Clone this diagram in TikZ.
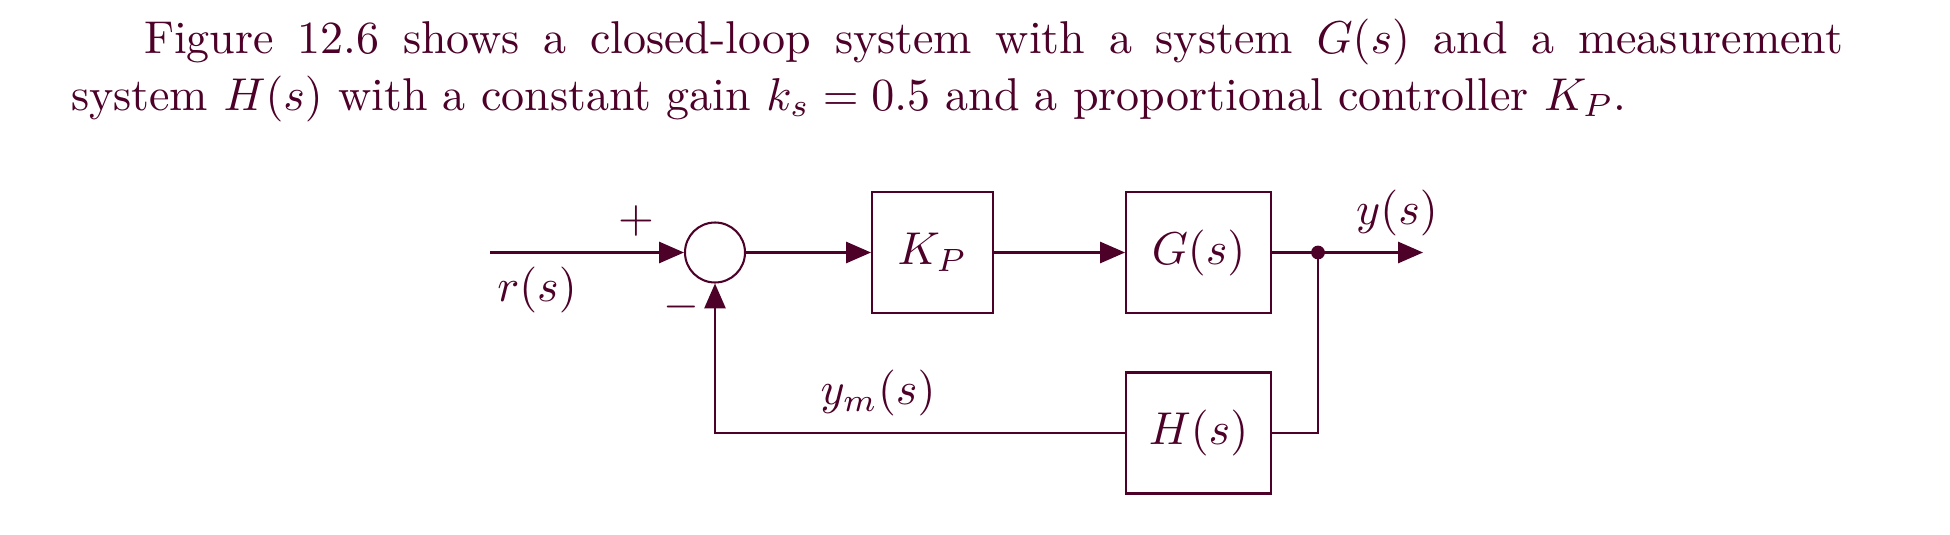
\documentclass[tikz,border=0pt]{standalone}
\usetikzlibrary{arrows.meta}
\definecolor{ink}{RGB}{77,0,40}
\begin{document}
\begin{tikzpicture}[x=0.21739pt,y=-0.21739pt, color=ink, line width=0.45pt,
  blk/.style={draw, rectangle, inner sep=0pt, minimum height=26.3pt},
  arr/.style={-{Triangle[length=5.4pt,width=4.6pt]}},
  lbl/.style={inner sep=0pt}]
\useasboundingbox (0,0) rectangle (1950,535);
\node[anchor=base west, inner sep=0] (l1) at (143,53) {\makebox[369.35pt][s]{Figure 12.6 shows a closed-loop system with a system $G(s)$ and a measurement}};
\node[anchor=base west, inner sep=0] (l2) at (70,110) {system $H(s)$ with a constant gain $k_s=0.5$ and a proportional controller $K_P$.};

\node[draw, circle, minimum size=13.04pt, inner sep=0pt] (sum) at (715,252.5) {};
\node[blk, minimum width=26.3pt] (kp) at (932.5,252.5) {$K_P$};
\node[blk, minimum width=31.5pt] (g) at (1198.5,252.5) {$G(s)$};
\node[blk, minimum width=31.5pt] (h) at (1198.5,433) {$H(s)$};
\node[circle, fill, inner sep=0pt, minimum size=3pt] (dot) at (1318,252.5) {};
\coordinate (in) at (490,252.5);
\coordinate (out) at (1423,252.5);

\draw[arr] (in) -- (sum.west);
\draw[arr] (sum.east) -- (kp.west);
\draw[arr] (kp.east) -- (g.west);
\draw (g.east) -- (dot.center);
\draw[arr] (dot.center) -- (out);
\draw (dot.center) |- (h.east);
\draw[arr] (h.west) -| (sum.south);

\node[lbl] (plus) at (636,221) {$+$};
\node[lbl] (minus) at (681,307) {$-$};
\node[lbl] (r) at (537,290) {$r(s)$};
\node[lbl] (y) at (1397,213) {$y(s)$};
\node[lbl] (ym) at (878,393) {$y_m(s)$};
\end{tikzpicture}
\end{document}
